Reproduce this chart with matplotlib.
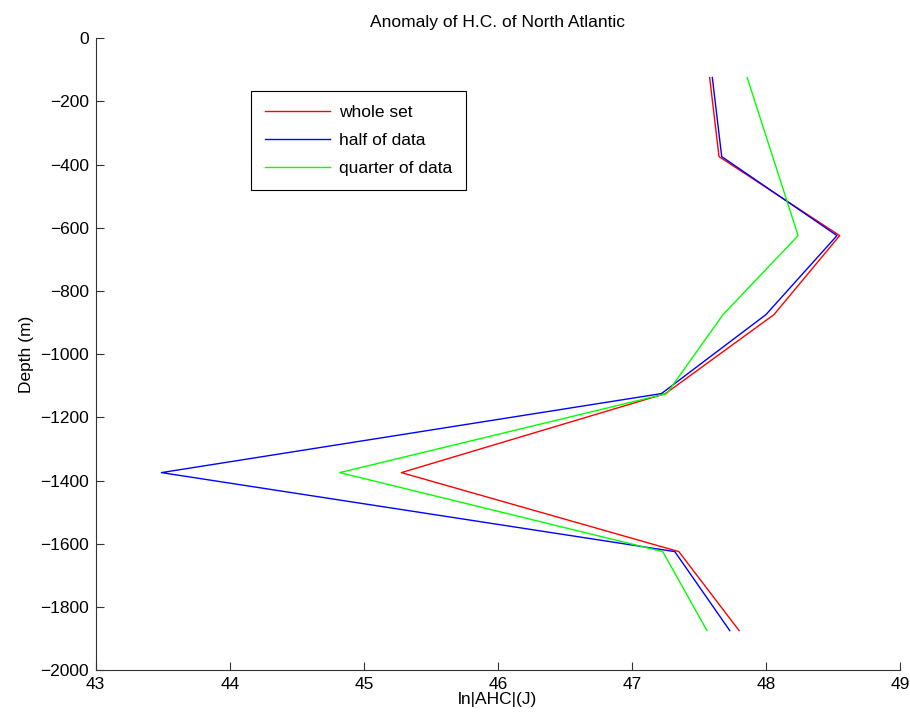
import matplotlib.pyplot as plt
import numpy as np

plt.rcParams['font.family'] = ['Liberation Sans', 'DejaVu Sans']

depth = [-125, -375, -625, -875, -1125, -1375, -1625, -1875]
whole_set = [47.58, 47.65, 48.55, 48.06, 47.25, 45.28, 47.35, 47.80]
half_data = [47.60, 47.67, 48.53, 48.00, 47.22, 43.49, 47.32, 47.73]
quarter_data = [47.86, 48.05, 48.24, 47.68, 47.26, 44.82, 47.23, 47.56]

fig = plt.figure(figsize=(9.1, 7.19), dpi=100)
ax = fig.add_axes([0.1052, 0.068, 0.8838, 0.879])

ax.plot(whole_set, depth, color='#ff0000', lw=1.0, label='whole set')
ax.plot(half_data, depth, color='#0000ff', lw=1.0, label='half of data')
ax.plot(quarter_data, depth, color='#00ff00', lw=1.0, label='quarter of data')

ax.set_xlim(43, 49)
ax.set_ylim(-2000, 0)
ax.set_xticks(np.arange(43, 50, 1))
ax.set_yticks(np.arange(-2000, 1, 200))
ax.tick_params(direction='in', length=6, width=0.8, labelsize=12.5,
               colors='#333333', labelcolor='black')
ax.tick_params(axis='y', pad=5)
ax.tick_params(axis='x', pad=5)
ax.spines['top'].set_visible(False)
ax.spines['right'].set_visible(False)
for s in ('left', 'bottom'):
    ax.spines[s].set_color('#333333')

ax.set_title('Anomaly of H.C. of North Atlantic', fontsize=12.5, pad=8)
ax.set_xlabel('ln|AHC|(J)', fontsize=12.5, labelpad=0)
ax.set_ylabel('Depth (m)', fontsize=12.5, labelpad=4)

leg = ax.legend(loc='upper left', bbox_to_anchor=(0.193, 0.917), fontsize=12.5,
                frameon=True, fancybox=False, edgecolor='black', framealpha=1,
                handlelength=3.75, handletextpad=0.5, borderpad=0.8,
                labelspacing=0.75, borderaxespad=0)
leg.get_frame().set_linewidth(0.8)

fig.savefig('out.png', dpi=100)
